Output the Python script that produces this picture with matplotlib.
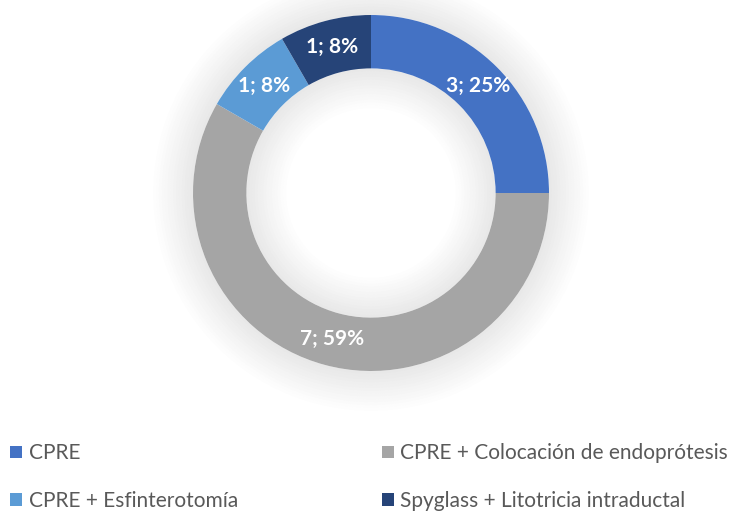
import numpy as np
import matplotlib.pyplot as plt
from matplotlib.patches import Patch

# ============================================================
# DATA
# ============================================================

categories = [
    "CPRE",
    "CPRE + Colocación de endoprótesis",
    "CPRE + Esfinterotomía",
    "Spyglass + Litotricia intraductal",
]
counts = [3, 7, 1, 1]
percent_labels = ["25%", "59%", "8%", "8%"]
colors = ["#4472C4", "#A5A5A5", "#5B9BD5", "#264478"]

# ============================================================
# STYLE
# ============================================================

plt.rcParams["font.family"] = ["Lato", "DejaVu Sans"]

W, H, DPI = 743, 512, 100
fig = plt.figure(figsize=(W / DPI, H / DPI), dpi=DPI)
fig.patch.set_facecolor("white")

# pie axes: centre (371, 193) px, outer radius 178 px
cx, cy, R = 371, 193, 178
half = 1.25 * R
ax = fig.add_axes([(cx - half) / W, (H - cy - half) / H, 2 * half / W, 2 * half / H])

# soft shadow around the ring (outside and inside the hole)
n_out = 14
for k in range(n_out):
    ax.pie([1], radius=1.0 + 0.016 * (k + 1), colors=["#000000"],
           wedgeprops=dict(width=0.016, alpha=0.09 * (1 - k / n_out), linewidth=0))
n_in = 14
for k in range(n_in):
    ax.pie([1], radius=0.70 - 0.016 * k, colors=["#000000"],
           wedgeprops=dict(width=0.016, alpha=0.09 * (1 - k / n_in), linewidth=0))

wedges, _ = ax.pie(
    counts,
    radius=1.0,
    colors=colors,
    startangle=90,
    counterclock=False,
    wedgeprops=dict(width=0.30, linewidth=0),
)

ax.set_xlim(-1.25, 1.25)
ax.set_ylim(-1.25, 1.25)
ax.set_aspect("equal")
ax.axis("off")

# data labels at the middle of the ring
total = sum(counts)
angle = 90.0
for n, pct in zip(counts, percent_labels):
    span = 360.0 * n / total
    mid = np.deg2rad(angle - span / 2)
    angle -= span
    ax.text(0.85 * np.cos(mid), 0.85 * np.sin(mid), f"{n}; {pct}",
            ha="center", va="center", color="white",
            fontsize=15, fontweight="bold")

# legend
handles = [Patch(facecolor=c, edgecolor="none") for c in colors]
order = [0, 2, 1, 3]
fig.legend(
    [handles[i] for i in order],
    [categories[i] for i in order],
    loc="upper left",
    bbox_to_anchor=(2 / W, 1 - 435 / H),
    ncol=2,
    frameon=False,
    fontsize=15,
    labelcolor="#595959",
    handlelength=0.58,
    handleheight=0.58,
    handletextpad=0.3,
    columnspacing=6.9,
    labelspacing=1.32,
    borderaxespad=0.0,
)

fig.savefig("out.png", dpi=DPI)
